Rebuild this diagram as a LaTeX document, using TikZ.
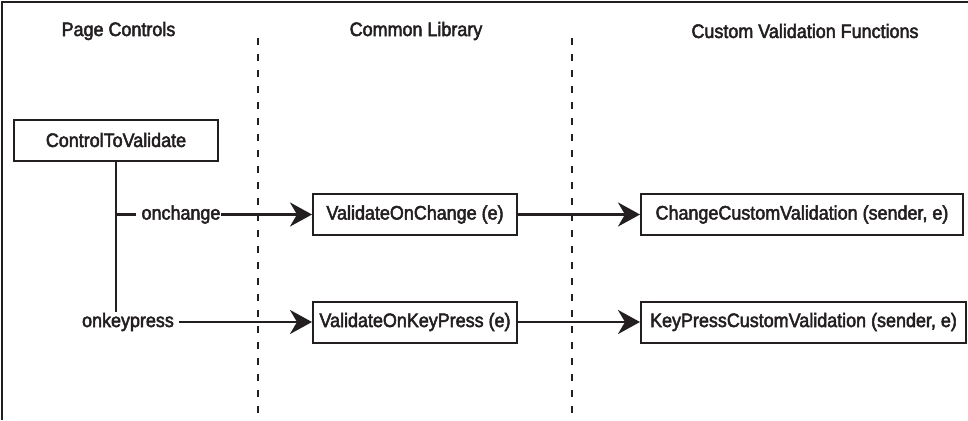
\documentclass[tikz,border=0pt]{standalone}
\usepackage{fontspec}
\setmainfont{Liberation Sans}[FakeStretch=0.92,FakeBold=2.5]
\usetikzlibrary{arrows.meta}
\definecolor{ink}{HTML}{231F20}
\begin{document}
\begin{tikzpicture}[x=1pt,y=-1pt,
  txt/.style={text=ink, font=\fontsize{19.5}{21}\selectfont},
  box/.style={txt, draw=ink, line width=2pt, minimum height=41pt, inner sep=0pt},
  lbl/.style={txt, inner sep=0pt},
  conn/.style={draw=ink, line width=2.8pt},
  arr/.style={conn, -{Stealth[length=22pt,width=24pt,inset=7pt]}},
  sep/.style={draw=ink, line width=2.2pt, dash pattern=on 7pt off 9pt},
]
\useasboundingbox (0,0) rectangle (968,420);
% frame
\coordinate (fr) at (968,2);
\coordinate (fc) at (2,2);
\coordinate (fb) at (2,420);
\draw[ink, line width=2pt] (fr) -- (fc) -- (fb);
% headers
\node[lbl] (h1) at (118.5,31) {Page Controls};
\node[lbl] (h2) at (416,31) {Common Library};
\node[lbl] (h3) at (805,31) {Custom Validation Functions};
% separators
\coordinate (s1t) at (258,38);
\coordinate (s1b) at (258,420);
\coordinate (s2t) at (572,38);
\coordinate (s2b) at (572,420);
\draw[sep] (s1t) -- (s1b);
\draw[sep] (s2t) -- (s2b);
% boxes
\node[box, minimum width=204pt] (ctv) at (116,140) {ControlToValidate};
\node[box, minimum width=204pt] (voc) at (415,214.5) {ValidateOnChange (e)};
\node[box, minimum width=204pt] (vok) at (415,322) {ValidateOnKeyPress (e)};
\node[box, minimum width=322pt] (ccv) at (802,214.5) {ChangeCustomValidation (sender, e)};
\node[box, minimum width=325pt] (kcv) at (803.5,322) {KeyPressCustomValidation (sender, e)};
% labels
\node[lbl] (onc) at (181,214.5) {onchange};
\node[lbl] (onk) at (128,322) {onkeypress};
% connectors
\coordinate (vend) at (116,312);
\draw[conn] (ctv.south) -- (vend);
\draw[conn, shorten >=5pt] (ctv.south |- onc) -- (onc.west);
\draw[arr] (onc.east) -- (voc.west);
\draw[arr, shorten <=5pt] (onk.east) -- (vok.west);
\draw[arr] (voc.east) -- (ccv.west);
\draw[arr] (vok.east) -- (kcv.west);
\end{tikzpicture}
\end{document}
